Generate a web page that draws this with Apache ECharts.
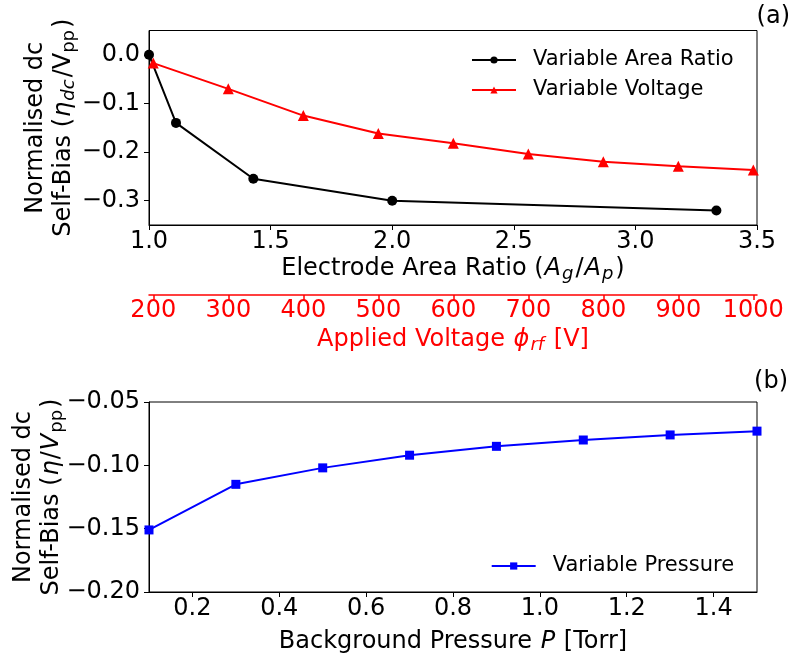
<!DOCTYPE html>
<html><head><meta charset="utf-8">
<script src="https://cdn.jsdelivr.net/npm/echarts@6/dist/echarts.min.js"></script>
<style>html,body{margin:0;padding:0;background:#fff}#c{width:795px;height:657px}</style>
</head><body><div id="c"></div>
<script>
const areaRatio = [1.0, 1.111, 1.429, 2.0, 3.333];
const areaBias = [0.0, -0.140, -0.255, -0.300, -0.320];
const voltage = [200, 300, 400, 500, 600, 700, 800, 900, 1000];
const voltageBias = [-0.017, -0.070, -0.125, -0.162, -0.182, -0.204, -0.220, -0.229, -0.237];
const pressure = [0.1, 0.3, 0.5, 0.7, 0.9, 1.1, 1.3, 1.5];
const pressureBias = [-0.151, -0.115, -0.102, -0.092, -0.085, -0.080, -0.076, -0.073];
const areaTicks = [1.0, 1.5, 2.0, 2.5, 3.0, 3.5];
const voltageTicks = [200, 300, 400, 500, 600, 700, 800, 900, 1000];
const biasTicksA = [-0.3, -0.2, -0.1, 0.0];
const pressureTicks = [0.2, 0.4, 0.6, 0.8, 1.0, 1.2, 1.4];
const biasTicksB = [-0.20, -0.15, -0.10, -0.05];

const FONT = 'DejaVu Sans';
const FS = 24;
const LH = 28;
const VMIN = 194.3, VMAX = 1004.9;
function fmt(d) { return v => (v < -1e-9 ? '\u2212' : '') + Math.abs(v).toFixed(d); }
function rich(color) {
  return {
    n: {fontFamily: FONT, fontSize: FS, color: color, lineHeight: LH},
    i: {fontFamily: FONT, fontSize: FS, fontStyle: 'italic', color: color, lineHeight: LH, padding: [0, 1, 0, 1]},
    s: {fontFamily: FONT, fontSize: 18, fontStyle: 'italic', color: color, lineHeight: 16, verticalAlign: 'bottom', padding: [0, 2, 0, 0]},
    r: {fontFamily: FONT, fontSize: 18, color: color, lineHeight: 16, verticalAlign: 'bottom', padding: [0, 2, 0, 0]}
  };
}
const zip = (a, b) => a.map((x, k) => [x, b[k]]);

const chart = echarts.init(document.getElementById('c'));
function mkLine(c, w) { return {show: true, onZero: false, lineStyle: {color: c, width: w || 1, opacity: 1}}; }
function mkTick(c, vals, w) { return {show: true, inside: false, length: 5, customValues: vals, lineStyle: {color: c, width: w || 1, opacity: 1}}; }
function nameStyle(c) { return {fontFamily: FONT, fontSize: FS, color: c, lineHeight: LH, rich: rich(c)}; }
function labelStyle(c, vals, f, m) { return {customValues: vals, formatter: f, fontFamily: FONT, fontSize: FS, color: c, margin: m}; }

chart.setOption({
  animation: false,
  backgroundColor: '#fff',
  grid: [
    {left: 149, top: 30.5, width: 608, height: 194.5, show: true, borderColor: '#000', borderWidth: 1},
    {left: 149, top: 402, width: 608, height: 194.5, show: true, borderColor: '#000', borderWidth: 1},
    {left: 149, top: 294, width: 608, height: 1, show: false}
  ],
  xAxis: [
    {type: 'value', gridIndex: 0, min: 1.0, max: 3.5, splitLine: {show: false},
     axisLine: mkLine('#000'), axisTick: mkTick('#000', areaTicks),
     axisLabel: labelStyle('#000', areaTicks, fmt(1), 5),
     name: 'Electrode Area Ratio ({i|A}{s|g}{n|/}{i|A}{s|p}{n|)}', nameLocation: 'middle', nameGap: 30,
     nameMoveOverlap: false, nameTextStyle: nameStyle('#000')},
    {type: 'value', gridIndex: 0, min: VMIN, max: VMAX, show: false},
    {type: 'value', gridIndex: 1, min: 0.1, max: 1.5, splitLine: {show: false},
     axisLine: mkLine('#000'), axisTick: mkTick('#000', pressureTicks),
     axisLabel: labelStyle('#000', pressureTicks, fmt(1), 5),
     name: 'Background Pressure {i|P} [Torr]', nameLocation: 'middle', nameGap: 36,
     nameMoveOverlap: false, nameTextStyle: nameStyle('#000')},
    {type: 'value', gridIndex: 2, min: VMIN, max: VMAX, position: 'bottom', splitLine: {show: false},
     axisLine: mkLine('rgb(255,0,0)', 1.5),
     axisTick: mkTick('rgb(255,0,0)', voltageTicks, 1.5),
     axisLabel: labelStyle('#ff0000', voltageTicks, v => String(Math.round(v)), 4),
     name: 'Applied Voltage {i|\u03d5}{s|rf} [V]', nameLocation: 'middle', nameGap: 31,
     nameMoveOverlap: false, nameTextStyle: nameStyle('#ff0000')}
  ],
  yAxis: [
    {type: 'value', gridIndex: 0, min: -0.35, max: 0.05, splitLine: {show: false},
     axisLine: mkLine('#000'), axisTick: mkTick('#000', biasTicksA),
     axisLabel: labelStyle('#000', biasTicksA, fmt(1), 9),
     name: 'Normalised dc\nSelf-Bias ({i|\u03b7}{s|dc}{n|/V}{r|pp}{n|)}', nameLocation: 'middle', nameGap: 71,
     nameMoveOverlap: false, nameTextStyle: Object.assign(nameStyle('#000'), {align: 'center'})},
    {type: 'value', gridIndex: 1, min: -0.20, max: -0.05, interval: 0.05, splitLine: {show: false},
     axisLine: mkLine('#000'), axisTick: mkTick('#000', biasTicksB),
     axisLabel: labelStyle('#000', biasTicksB, fmt(2), 9),
     name: 'Normalised dc\nSelf-Bias ({i|\u03b7}{n|/}{i|V}{r|pp}{n|)}', nameLocation: 'middle', nameGap: 83,
     nameMoveOverlap: false, nameTextStyle: Object.assign(nameStyle('#000'), {align: 'center'})},
    {type: 'value', gridIndex: 2, min: 0, max: 1, show: false}
  ],
  legend: [
    {data: ['Variable Area Ratio', 'Variable Voltage'], orient: 'vertical', left: 466, top: 44.5,
     itemWidth: 44, itemHeight: 9, itemGap: 9,
     textStyle: {fontFamily: FONT, fontSize: 21, color: '#000', padding: [0, 0, 0, 12]}},
    {data: ['Variable Pressure'], orient: 'vertical', left: 485.7, top: 550.5,
     itemWidth: 44, itemHeight: 9,
     textStyle: {fontFamily: FONT, fontSize: 21, color: '#000', padding: [0, 0, 0, 12]}}
  ],
  series: [
    {name: 'Variable Area Ratio', type: 'line', xAxisIndex: 0, yAxisIndex: 0, data: zip(areaRatio, areaBias),
     symbol: 'circle', symbolSize: 10, itemStyle: {color: '#000'}, lineStyle: {color: '#000', width: 2}},
    {name: 'Variable Voltage', type: 'line', xAxisIndex: 1, yAxisIndex: 0, data: zip(voltage, voltageBias),
     symbol: 'triangle', symbolSize: 11, itemStyle: {color: '#ff0000'}, lineStyle: {color: '#ff0000', width: 2}},
    {name: 'Variable Pressure', type: 'line', xAxisIndex: 2, yAxisIndex: 1, data: zip(pressure, pressureBias),
     symbol: 'rect', symbolSize: 9, itemStyle: {color: '#0000ff'}, lineStyle: {color: '#0000ff', width: 2}}
  ],
  graphic: [
    {type: 'text', right: 5, top: 5, style: {text: '(a)', fontFamily: FONT, fontSize: FS, fill: '#000'}},
    {type: 'text', right: 7, top: 370, style: {text: '(b)', fontFamily: FONT, fontSize: FS, fill: '#000'}}
  ]
});
</script></body></html>
